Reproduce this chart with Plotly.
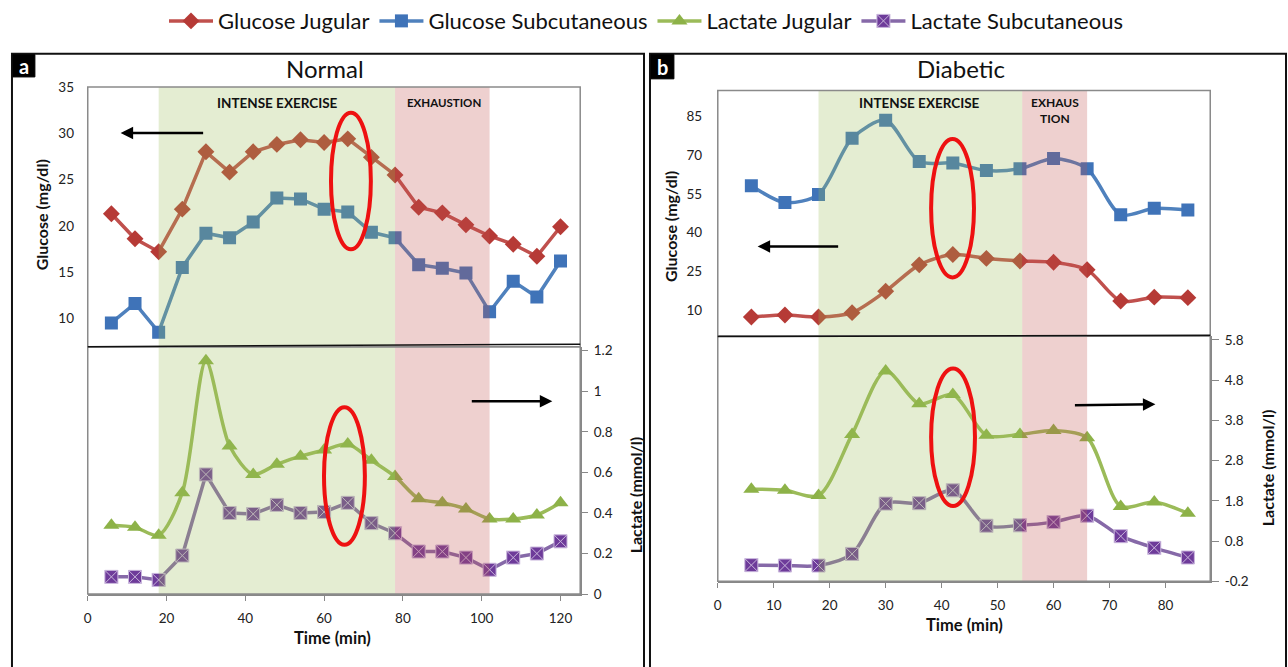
import plotly.graph_objects as go

W, H = 1288, 667
def PX(x): return x / W
def PY(y): return 1 - y / H

# ---------------- data ----------------
t_norm = [6, 12, 18, 24, 30, 36, 42, 48, 54, 60, 66, 72, 78, 84, 90, 96, 102, 108, 114, 120]
glu_jug_norm = [21.3, 18.6, 17.2, 21.8, 28.0, 25.8, 28.0, 28.8, 29.3, 29.0, 29.4, 27.4, 25.5, 22.0, 21.4, 20.1, 18.9, 18.0, 16.7, 19.9]
glu_sub_norm = [9.5, 11.6, 8.5, 15.5, 19.2, 18.7, 20.4, 23.0, 22.9, 21.8, 21.5, 19.3, 18.7, 15.8, 15.4, 14.9, 10.7, 14.0, 12.3, 16.2]
lac_jug_norm = [0.34, 0.33, 0.29, 0.50, 1.15, 0.73, 0.59, 0.64, 0.68, 0.71, 0.74, 0.66, 0.58, 0.47, 0.45, 0.42, 0.37, 0.37, 0.39, 0.45]
lac_sub_norm = [0.085, 0.085, 0.07, 0.19, 0.59, 0.40, 0.395, 0.44, 0.40, 0.405, 0.45, 0.35, 0.30, 0.21, 0.21, 0.18, 0.12, 0.18, 0.20, 0.26]

t_diab = [6, 12, 18, 24, 30, 36, 42, 48, 54, 60, 66, 72, 78, 84]
glu_jug_diab = [7.3, 8.1, 7.3, 9.0, 17.3, 27.5, 31.5, 30.0, 29.0, 28.5, 25.6, 13.5, 15.0, 14.8]
glu_sub_diab = [58.1, 51.6, 54.7, 76.5, 83.5, 67.5, 66.9, 64.0, 64.7, 68.7, 64.7, 46.9, 49.4, 48.7]
lac_jug_diab = [2.09, 2.06, 1.93, 3.45, 5.03, 4.21, 4.44, 3.43, 3.45, 3.55, 3.37, 1.66, 1.77, 1.49]
lac_sub_diab = [0.20, 0.19, 0.19, 0.48, 1.73, 1.74, 2.06, 1.18, 1.19, 1.27, 1.43, 0.92, 0.63, 0.39]

series_names = ["Glucose Jugular", "Glucose Subcutaneous", "Lactate Jugular", "Lactate Subcutaneous"]

norm_x_ticks = [0, 20, 40, 60, 80, 100, 120]
diab_x_ticks = [0, 10, 20, 30, 40, 50, 60, 70, 80]
norm_glu_ticks = [10, 15, 20, 25, 30, 35]
diab_glu_ticks = [10, 25, 40, 55, 70, 85]
norm_lac_ticks = [0, 0.2, 0.4, 0.6, 0.8, 1.0, 1.2]
norm_lac_text = ["0", "0.2", "0.4", "0.6", "0.8", "1", "1.2"]
diab_lac_ticks = [-0.2, 0.8, 1.8, 2.8, 3.8, 4.8, 5.8]
diab_lac_text = ["-0.2", "0.8", "1.8", "2.8", "3.8", "4.8", "5.8"]

# phases (min)
norm_exercise = (18, 78)
norm_exhaust = (78, 102)
diab_exercise = (18, 54.4)
diab_exhaust = (54.4, 66)

FONT = "Lato"
RED, RED_M = "#C0504D", "#B63A36"
BLUE, BLUE_M = "#4F81BD", "#3F73B8"
GREEN, GREEN_M = "#9BBB59", "#8DB248"
PURP, PURP_M = "#8669A8", "#6E3B9A"

fig = go.Figure()

def add(x, y, xa, ya, name, color, mcolor, symbol, shape, show, mline="white"):
    fig.add_trace(go.Scatter(
        x=x, y=y, xaxis=xa, yaxis=ya, name=name, legendgroup=name, showlegend=show,
        mode="lines+markers",
        line=dict(color=color, width=3.5, shape=shape, smoothing=0.8),
        marker=dict(color=mcolor, size=13 if symbol != "triangle-up" else 14, symbol=symbol,
                    line=dict(color=mline, width=1 if symbol == "square-x" else 0)),
    ))

add(t_norm, glu_jug_norm, "x", "y", series_names[0], RED, RED_M, "diamond", "linear", True)
add(t_norm, glu_sub_norm, "x", "y", series_names[1], BLUE, BLUE_M, "square", "linear", True)
add(t_norm, lac_jug_norm, "x", "y2", series_names[2], GREEN, GREEN_M, "triangle-up", "spline", True)
add(t_norm, lac_sub_norm, "x", "y2", series_names[3], PURP, PURP_M, "square-x", "linear", True, mline="#C9B6DC")

add(t_diab, glu_jug_diab, "x2", "y3", series_names[0], RED, RED_M, "diamond", "spline", False)
add(t_diab, glu_sub_diab, "x2", "y3", series_names[1], BLUE, BLUE_M, "square", "spline", False)
add(t_diab, lac_jug_diab, "x2", "y4", series_names[2], GREEN, GREEN_M, "triangle-up", "spline", False)
add(t_diab, lac_sub_diab, "x2", "y4", series_names[3], PURP, PURP_M, "square-x", "spline", False, mline="#C9B6DC")

tickfont = dict(family=FONT, size=13.5, color="#222")
axcommon = dict(showgrid=False, zeroline=False, tickfont=tickfont, fixedrange=True)

# left panel pixel geometry
L_x0, L_x1 = 84, 578
L_gt, L_sep, L_bot = 76.5, 344.5, 600
# right panel
R_x0, R_x1 = 716, 1210
R_gt, R_sep, R_bot = 80, 333.4, 586.7

fig.update_layout(
    width=W, height=H, autosize=False,
    margin=dict(l=0, r=0, t=0, b=0),
    paper_bgcolor="white", plot_bgcolor="rgba(0,0,0,0)",
    font=dict(family=FONT, color="#111"),
    xaxis=dict(domain=[PX(L_x0), PX(L_x1)], range=[0, 125], anchor="y2",
               tickvals=norm_x_ticks, ticks="outside", ticklen=5, tickcolor="#888",
               ticklabelstandoff=6,
               showline=True, linecolor="#888", linewidth=1.5, **axcommon),
    yaxis=dict(domain=[PY(L_sep), PY(L_gt)], range=[6.93, 35], anchor="x",
               tickvals=norm_glu_ticks, ticks="outside", ticklen=10, tickcolor="rgba(0,0,0,0)",
               showline=False, **axcommon),
    yaxis2=dict(domain=[PY(L_bot), PY(L_sep)], range=[0, 1.22], anchor="x", side="right",
                tickvals=norm_lac_ticks, ticktext=norm_lac_text, ticks="outside", ticklen=6,
                ticklabelstandoff=3,
                tickcolor="#888", showline=True, linecolor="#888", linewidth=1.5, **axcommon),
    xaxis2=dict(domain=[PX(R_x0), PX(R_x1)], range=[0, 88], anchor="y4",
                tickvals=diab_x_ticks, ticks="outside", ticklen=5, tickcolor="#888",
                ticklabelstandoff=6,
                showline=True, linecolor="#888", linewidth=1.5, **axcommon),
    yaxis3=dict(domain=[PY(R_sep), PY(R_gt)], range=[0, 95], anchor="x2",
                tickvals=diab_glu_ticks, ticks="outside", ticklen=12, tickcolor="rgba(0,0,0,0)",
                showline=False, **axcommon),
    yaxis4=dict(domain=[PY(R_bot), PY(R_sep)], range=[-0.2, 5.9], anchor="x2", side="right",
                tickvals=diab_lac_ticks, ticktext=diab_lac_text, ticks="outside", ticklen=7,
                ticklabelstandoff=3,
                tickcolor="#888", showline=True, linecolor="#888", linewidth=1.5, **axcommon),
    legend=dict(orientation="h", x=0.5, xanchor="center", y=1.02, yanchor="top",
                font=dict(family=FONT, size=22, color="#111"), itemwidth=44,
                tracegroupgap=0, bgcolor="rgba(0,0,0,0)"),
)

shapes = []
def band(xref, x0, x1, ytop, ybot, color):
    shapes.append(dict(type="rect", xref=xref, yref="paper", x0=x0, x1=x1,
                       y0=PY(ybot), y1=PY(ytop), fillcolor=color, line=dict(width=0),
                       opacity=0.27, layer="above"))

band("x", *norm_exercise, L_gt, L_bot, GREEN)
band("x", *norm_exhaust, L_gt, L_bot, RED)
band("x2", *diab_exercise, R_gt, R_bot, GREEN)
band("x2", *diab_exhaust, R_gt, R_bot, RED)

def prect(x0, y0, x1, y1, color, width, fill=None, layer="above"):
    shapes.append(dict(type="rect", xref="paper", yref="paper", x0=PX(x0), x1=PX(x1),
                       y0=PY(y1), y1=PY(y0), line=dict(color=color, width=width),
                       fillcolor=fill if fill else "rgba(0,0,0,0)", layer=layer))

def pline(x0, y0, x1, y1, color, width):
    shapes.append(dict(type="line", xref="paper", yref="paper", x0=PX(x0), x1=PX(x1),
                       y0=PY(y0), y1=PY(y1), line=dict(color=color, width=width), layer="above"))

# plot-area borders
prect(L_x0, L_gt, L_x1, L_sep, "#8a8a8a", 1.5)
prect(L_x0, L_sep, L_x1, L_bot, "#8a8a8a", 1.5)
prect(R_x0, R_gt, R_x1, R_sep, "#8a8a8a", 1.5)
prect(R_x0, R_sep, R_x1, R_bot, "#8a8a8a", 1.5)
# separators
pline(L_x0, L_sep, L_x1, L_sep - 2.5, "#111", 1.5)
pline(R_x0, R_sep + 0.6, R_x1, R_sep - 0.6, "#111", 1.5)
# panel boxes
prect(8, 42, 642, 700, "#111", 2)
prect(648, 42, 1286, 700, "#111", 2)
# label boxes
prect(9, 43, 31, 66, "#000", 1, fill="#000")
prect(649, 43, 672, 68, "#000", 1, fill="#000")

# red ellipses
def ell(cx0, cy0, cx1, cy1):
    shapes.append(dict(type="circle", xref="paper", yref="paper", x0=PX(cx0), x1=PX(cx1),
                       y0=PY(cy1), y1=PY(cy0), line=dict(color="#EE1111", width=4), layer="above"))
ell(328, 103, 368, 244)
ell(321, 407, 362, 549)
ell(930, 130, 973, 273)
ell(930, 367, 974, 509)

fig.update_layout(shapes=shapes)

ann = []
def txt(x, y, s, size, bold=False, color="#111", angle=0):
    ann.append(dict(x=PX(x), y=PY(y), xref="paper", yref="paper", text=f"<b>{s}</b>" if bold else s,
                    showarrow=False, xanchor="center", yanchor="middle", textangle=angle,
                    font=dict(family=FONT, size=size, color=color)))

txt(20, 54.5, "a", 20, True, "white")
txt(660.5, 55.5, "b", 20, True, "white")
txt(322, 57, "Normal", 24)
txt(960, 57, "Diabetic", 24)
txt(274, 93, "INTENSE EXERCISE", 13.5, True)
txt(441, 92, "EXHAUSTION", 11.5, True)
txt(918, 93, "INTENSE EXERCISE", 13.5, True)
txt(1054, 101, "EXHAUS<br>TION", 12, True)
txt(38, 208, "Glucose (mg/dl)", 16, True, angle=-90)
txt(633, 498, "Lactate (mmol/l)", 16, True, angle=-90)
txt(668, 220, "Glucose (mg/dl)", 16, True, angle=-90)
txt(1267, 470, "Lactate (mmol/l)", 16, True, angle=-90)
txt(330, 645, "Time (min)", 16.5, True)
txt(963, 632, "Time (min)", 16.5, True)

def arrow(hx, hy, tx, ty):
    ann.append(dict(x=PX(hx), y=PY(hy), xref="paper", yref="paper", ax=tx - hx, ay=ty - hy,
                    axref="pixel", ayref="pixel", text="", showarrow=True, arrowhead=2,
                    arrowsize=1, arrowwidth=2.5, arrowcolor="#000"))

arrow(117, 124, 201, 124)
arrow(550, 401, 468, 401)
arrow(756, 241, 838, 241)
arrow(1155, 404, 1073, 405)

fig.update_layout(annotations=ann)

fig.write_html("out.html")
